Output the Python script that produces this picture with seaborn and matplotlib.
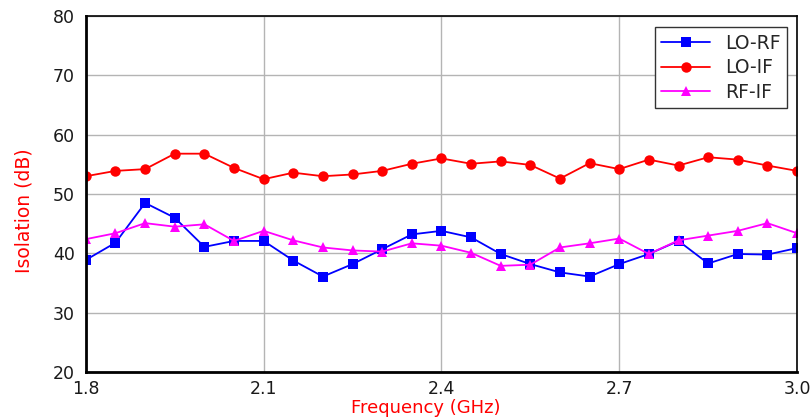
import numpy as np
import pandas as pd
import matplotlib.pyplot as plt
import seaborn as sns

sns.set_style("whitegrid")
plt.rcParams['font.family'] = ['DejaVu Sans']

freq = [round(1.8 + 0.05 * i, 2) for i in range(25)]
lo_rf = [38.9, 41.8, 48.5, 46.0, 41.1, 42.1, 42.1, 38.8, 36.1, 38.2, 40.7, 43.2, 43.8,
         42.7, 39.9, 38.2, 36.8, 36.1, 38.2, 39.9, 42.1, 38.3, 39.9, 39.8, 40.9]
lo_if = [53.0, 53.9, 54.2, 56.8, 56.8, 54.4, 52.5, 53.6, 53.0, 53.3, 53.9, 55.1, 56.0,
         55.1, 55.5, 54.9, 52.6, 55.2, 54.2, 55.8, 54.8, 56.2, 55.8, 54.8, 53.9]
rf_if = [42.4, 43.4, 45.1, 44.5, 44.9, 42.1, 43.8, 42.2, 41.0, 40.5, 40.3, 41.7, 41.3,
         40.1, 37.9, 38.1, 41.0, 41.7, 42.5, 39.9, 42.2, 43.0, 43.8, 45.1, 43.4]

series = ["LO-RF", "LO-IF", "RF-IF"]
df = pd.DataFrame({
    "freq": freq * 3,
    "iso": lo_rf + lo_if + rf_if,
    "name": np.repeat(series, len(freq)),
})

colors = {"LO-RF": "#0000ff", "LO-IF": "#ff0000", "RF-IF": "#ff00ff"}
marks = {"LO-RF": "s", "LO-IF": "o", "RF-IF": "^"}

fig = plt.figure(figsize=(8.1, 4.2), dpi=100)
ax = fig.add_axes([0.106, 0.114, 0.878, 0.848])
sns.lineplot(data=df, x="freq", y="iso", hue="name", style="name",
             palette=colors, markers=marks, dashes=False, markersize=7.5,
             markeredgewidth=0, linewidth=1.3, ax=ax)

ax.set_xlim(1.8, 3.0)
ax.set_ylim(20, 80)
ax.set_xticks([1.8, 2.1, 2.4, 2.7, 3.0])
ax.set_yticks(range(20, 81, 10))
ax.set_xticklabels(["1.8", "2.1", "2.4", "2.7", "3.0"])
ax.grid(True, color="#b4b4b4", linewidth=1)
for s in ax.spines.values():
    s.set_color("black")
    s.set_linewidth(1.2)
ax.spines["left"].set_linewidth(2)
ax.spines["bottom"].set_linewidth(2)
ax.tick_params(axis="both", labelsize=12.5, direction="inout", length=8,
               width=1.2, color="black", labelcolor="#1a1a1a")
ax.tick_params(axis="x", pad=2)
ax.tick_params(axis="y", pad=4)
ax.set_xlabel("Frequency (GHz)", color="red", fontsize=13)
ax.set_ylabel("Isolation (dB)", color="red", fontsize=13.5)
ax.xaxis.set_label_coords(0.478, -0.076)
ax.yaxis.set_label_coords(-0.073, 0.452)

leg = ax.legend(loc="upper right", fontsize=13.5, frameon=True, fancybox=False,
                edgecolor="#333333", framealpha=1, borderpad=0.35,
                handlelength=2.6, labelspacing=0.3, borderaxespad=0,
                bbox_to_anchor=(0.986, 0.969))
leg.get_frame().set_linewidth(1)

fig.savefig("out.png", dpi=100, facecolor="white")
